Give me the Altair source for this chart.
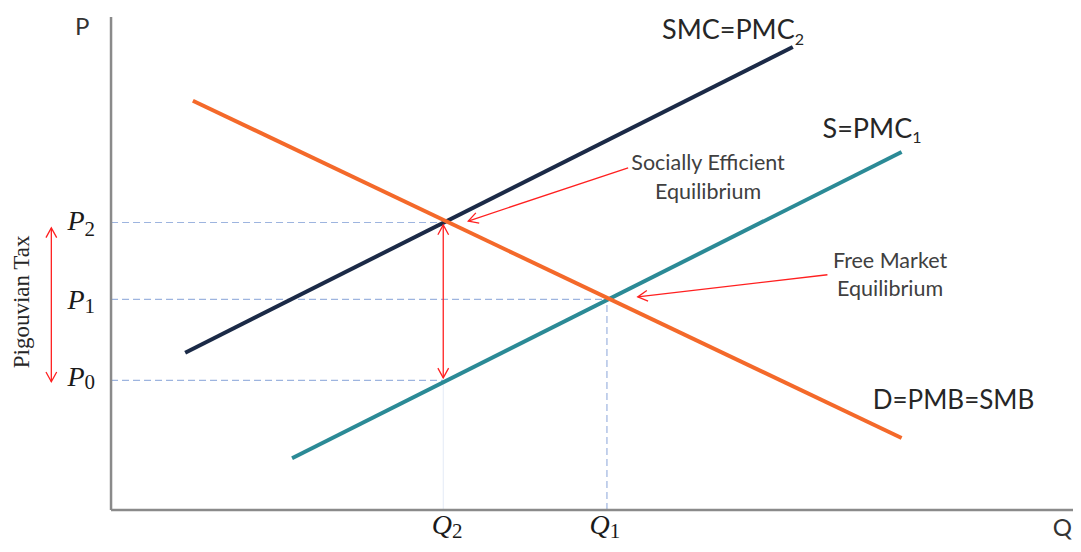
import altair as alt
import pandas as pd

# ---- Curves: (Q, P) end points ----
curve_label = ["SMC=PMC2", "S=PMC1", "D=PMB=SMB"]
curve_q_start = [7.7, 18.8, 8.5]
curve_p_start = [31.9, 10.5, 83.0]
curve_q_end = [70.8, 82.1, 82.1]
curve_p_end = [93.9, 72.6, 14.6]
curve_color = ["#1b2a47", "#2b8a96", "#f4692a"]

# ---- Equilibrium levels ----
Q2, Q1 = 34.5, 51.5
P0, P1, P2 = 26.3, 42.7, 58.3

# ---- Axis extent ----
Q_MAX, P_MAX = 100.0, 100.0

# ---- Dashed guide lines ----
guide_q_start = [0, 0, 0, Q1]
guide_p_start = [P2, P1, P0, 0]
guide_q_end = [Q2, Q1, Q2, Q1]
guide_p_end = [P2, P1, P0, P1]

# ---- Red arrows (shaft) ----
arrow_q_start = [-6.2, Q2, 53.7, 74.4]
arrow_p_start = [57.2, 57.8, 69.4, 47.7]
arrow_q_end = [-6.2, Q2, 37.1, 54.7]
arrow_p_end = [26.0, 26.8, 58.6, 43.2]

# ---- Arrow heads (tip position, rotation) ----
head_q = [-6.2, -6.2, Q2, Q2, 37.1, 54.7]
head_p = [57.2, 26.0, 57.8, 26.8, 58.6, 43.2]
head_angle = [0, 180, 0, 180, 251.7, 263.4]

# ---- Text labels ----
curve_text = ["SMC=PMC", "S=PMC", "D=PMB=SMB"]
curve_text_q = [71.0, 83.2, 79.1]
curve_text_p = [97.1, 77.1, 22.1]
curve_text_align = ["right", "right", "left"]
curve_sub = ["2", "1"]
curve_sub_q = [71.0, 83.2]
curve_sub_p = [95.3, 75.4]

note_text = ["Socially Efficient", "Equilibrium", "Free Market", "Equilibrium"]
note_q = [62.0, 62.0, 80.9, 80.9]
note_p = [70.2, 64.3, 50.3, 44.6]

axis_text = ["P", "Q"]
axis_text_q = [-3.0, 98.8]
axis_text_p = [97.8, -3.9]

math_main = ["P", "P", "P", "Q", "Q"]
math_sub = ["2", "1", "0", "2", "1"]
math_q = [-2.75, -2.75, -2.75, 35.4, 51.8]
math_p = [P2, P1 - 0.3, P0 + 0.5, -3.3, -3.3]
math_sub_p = [P2 - 1.6, P1 - 1.6, P0 - 0.5, -4.5, -4.5]

tax_text = ["Pigouvian Tax"]
tax_q = [-9.24]
tax_p = [42.2]

# ---- Scales ----
W, H = 1065, 536
xs = alt.Scale(domain=[-10.7, 99.9], nice=False, zero=False)
ys = alt.Scale(domain=[-6.9, 101.8], nice=False, zero=False)


def X(f):
    return alt.X(f, type="quantitative", scale=xs, axis=None)


def Y(f):
    return alt.Y(f, type="quantitative", scale=ys, axis=None)


axes_df = pd.DataFrame({"q": [0, 0], "p": [0, 0], "q2": [0, Q_MAX], "p2": [P_MAX, 0]})
axes_layer = alt.Chart(axes_df).mark_rule(color="#8a8a8a", strokeWidth=2.5).encode(
    x=X("q"), y=Y("p"), x2="q2", y2="p2")

guide_df = pd.DataFrame({"q": guide_q_start, "p": guide_p_start,
                         "q2": guide_q_end, "p2": guide_p_end})
guide_layer = alt.Chart(guide_df).mark_rule(color="#9db4df", strokeWidth=1.2,
                                            strokeDash=[7, 4]).encode(
    x=X("q"), y=Y("p"), x2="q2", y2="p2")

faint_df = pd.DataFrame({"q": [Q2], "p": [0], "q2": [Q2], "p2": [P0]})
faint_layer = alt.Chart(faint_df).mark_rule(color="#e3eaf6", strokeWidth=1).encode(
    x=X("q"), y=Y("p"), x2="q2", y2="p2")

curve_df = pd.DataFrame({"name": curve_label, "q": curve_q_start, "p": curve_p_start,
                         "q2": curve_q_end, "p2": curve_p_end, "c": curve_color})
curve_layer = alt.Chart(curve_df).mark_rule(strokeWidth=4).encode(
    x=X("q"), y=Y("p"), x2="q2", y2="p2",
    color=alt.Color("c:N", scale=None))

arrow_df = pd.DataFrame({"q": arrow_q_start, "p": arrow_p_start,
                         "q2": arrow_q_end, "p2": arrow_p_end})
arrow_layer = alt.Chart(arrow_df).mark_rule(color="#ff2020", strokeWidth=1.3).encode(
    x=X("q"), y=Y("p"), x2="q2", y2="p2")

head_df = pd.DataFrame({"q": head_q, "p": head_p, "a": head_angle})
head_layer = alt.Chart(head_df).mark_point(
    shape="M-0.55,1L0,0L0.55,1", size=380, filled=False, color="#ff2020",
    strokeWidth=1.3, opacity=1).encode(
    x=X("q"), y=Y("p"), angle=alt.Angle("a:Q", scale=None))

curve_text_df = pd.DataFrame({"t": curve_text, "q": curve_text_q, "p": curve_text_p,
                              "al": curve_text_align})
curve_text_r = alt.Chart(curve_text_df[curve_text_df.al == "right"]).mark_text(
    font="Lato", fontSize=27, align="right", baseline="middle", color="#262626").encode(
    x=X("q"), y=Y("p"), text="t:N")
curve_text_l = alt.Chart(curve_text_df[curve_text_df.al == "left"]).mark_text(
    font="Lato", fontSize=26, align="left", baseline="middle", color="#262626").encode(
    x=X("q"), y=Y("p"), text="t:N")
curve_sub_layer = alt.Chart(pd.DataFrame({"t": curve_sub, "q": curve_sub_q, "p": curve_sub_p})).mark_text(
    font="Lato", fontSize=16, align="left", baseline="middle", color="#262626").encode(
    x=X("q"), y=Y("p"), text="t:N")

note_layer = alt.Chart(pd.DataFrame({"t": note_text, "q": note_q, "p": note_p})).mark_text(
    font="Lato", fontSize=21.5, align="center", baseline="middle", color="#404040").encode(
    x=X("q"), y=Y("p"), text="t:N")

axis_text_layer = alt.Chart(pd.DataFrame({"t": axis_text, "q": axis_text_q, "p": axis_text_p})).mark_text(
    font="Lato", fontSize=24, align="center", baseline="middle", color="#333333").encode(
    x=X("q"), y=Y("p"), text="t:N")

math_main_layer = alt.Chart(pd.DataFrame({"t": math_main, "q": math_q, "p": math_p})).mark_text(
    font="Liberation Serif", fontSize=28, fontStyle="italic", align="right",
    baseline="middle", color="#1a1a1a").encode(
    x=X("q"), y=Y("p"), text="t:N")
math_sub_layer = alt.Chart(pd.DataFrame({"t": math_sub, "q": math_q, "p": math_sub_p})).mark_text(
    font="Liberation Serif", fontSize=21, align="left", baseline="middle",
    color="#1a1a1a").encode(
    x=X("q"), y=Y("p"), text="t:N")

tax_layer = alt.Chart(pd.DataFrame({"t": tax_text, "q": tax_q, "p": tax_p})).mark_text(
    font="Liberation Serif", fontSize=23, angle=270, align="center", baseline="middle",
    color="#262626").encode(
    x=X("q"), y=Y("p"), text="t:N")

chart = alt.layer(
    faint_layer, guide_layer, axes_layer, curve_layer, arrow_layer, head_layer,
    curve_text_r, curve_text_l, curve_sub_layer, note_layer, axis_text_layer,
    math_main_layer, math_sub_layer, tax_layer,
).properties(
    width=W, height=H, padding=0,
    autosize=alt.AutoSizeParams(type="none"),
).configure(background="white", view=alt.ViewConfig(stroke=None))

chart.save("out.html", embed_options={"renderer": "svg", "actions": False})
